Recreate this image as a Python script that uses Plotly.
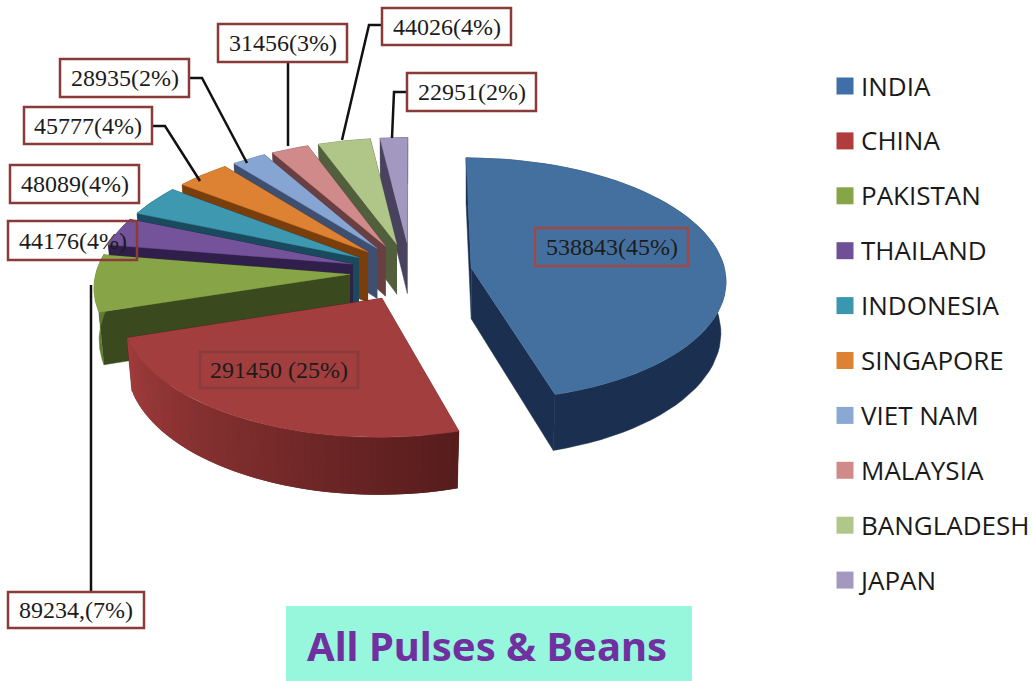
import numpy as np
import plotly.graph_objects as go

COUNTRIES = ["INDIA", "CHINA", "PAKISTAN", "THAILAND", "INDONESIA",
             "SINGAPORE", "VIET NAM", "MALAYSIA", "BANGLADESH", "JAPAN"]
VALUES = [538843, 291450, 89234, 44176, 48089, 45777, 28935, 31456, 44026, 22951]
VALUE_LABELS = ["538843(45%)", "291450 (25%)", "89234,(7%)", "44176(4%)", "48089(4%)",
                "45777(4%)", "28935(2%)", "31456(3%)", "44026(4%)", "22951(2%)"]
TITLE = "All Pulses & Beans"

TOP_COLORS = ["#44709f", "#a23e3e", "#87a546", "#74539b", "#3d98b0",
              "#dc8232", "#87a5d2", "#d08a8a", "#afc688", "#a298c0"]
WALL_COLORS = ["#1b3050", "#561c1c", "#3a4a1e", "#2f1f4a", "#1a4a5e",
               "#7a3e0c", "#3f4f70", "#6a3f42", "#515f3d", "#49425f"]
ARC_COLORS = ["#1b3050", "#8a3434", "#5f7c30", "#2f1f4a", "#1a4a5e",
              "#7a3e0c", "#3f4f70", "#6a3f42", "#515f3d", "#49425f"]
SWATCH_COLORS = ["#3f6fa8", "#b03c3c", "#87a546", "#6f4f96", "#3a97b0",
                 "#dc8232", "#8aa8d4", "#d08a8a", "#b0c78a", "#a298c0"]

# pie geometry, in page pixels
CX, CY = 411, 272
RX, RY = 254, 121
PERSP = 0.093
PULL = 0.24
DEPTH = 51
TAPER = 0.98

# (x0, x1, y0, y1) of each value box
LABEL_BOXES = [(535, 688, 228, 266), (200, 358, 352, 388), (8, 144, 592, 628),
               (8, 137, 221, 260), (10, 139, 165, 203), (24, 152, 107, 144),
               (60, 189, 59, 97), (218, 347, 24, 62), (382, 511, 8, 45),
               (407, 536, 73, 111)]
LABEL_BORDERS = ["#a04848", "#8a3c3c", "#8b3a3a", "#8b3a3a", "#8b3a3a",
                 "#8b3a3a", "#8b3a3a", "#8b3a3a", "#8b3a3a", "#8b3a3a"]
LEADERS = [
    ([91, 91], [592, 285]),
    ([152, 165, 200], [126, 126, 181]),
    ([189, 202, 247], [78, 78, 163]),
    ([288, 288], [62, 146]),
    ([382, 369, 342], [25, 25, 140]),
    ([407, 394, 392], [92, 92, 138]),
]
LEGEND_TOP = 86
LEGEND_STEP = 54.9


def project(u, v):
    k = 1 / (1 - PERSP * v)
    return CX + RX * u * k, CY + RY * v * k


def polygon(xs, ys, color, width=0.5):
    return go.Scatter(
        x=list(xs), y=list(ys), mode="lines", fill="toself", fillcolor=color,
        line=dict(color=color, width=width), hoverinfo="skip", showlegend=False,
    )


def slice_traces(start, end, top, wall, arc):
    mid = (start + end) / 2
    pu, pv = PULL * np.sin(mid), -PULL * np.cos(mid)
    ang = np.linspace(start, end, 60)
    au, av = pu + np.sin(ang), pv - np.cos(ang)
    ax, ay = project(pu, pv)
    tx, ty = project(au, av)

    def bottom(x, y, v):
        return ax + (x - ax) * TAPER, y + DEPTH / (1 - PERSP * v)

    bx, by = bottom(tx, ty, av)
    bax, bay = bottom(ax, ay, pv)

    out = []
    for i in (-1, 0):
        out.append(polygon([ax, tx[i], bx[i], bax], [ay, ty[i], by[i], bay], wall))
    if arc is None:
        # china's rim darkens towards the cut; each piece runs under the next one
        c0, c1 = np.array([160, 60, 60]), np.array([86, 28, 28])
        n = len(ang)
        for i in range(n - 1, 0, -1):
            c = c0 + (c1 - c0) * (1 - i / (n - 1))
            col = "rgb(%d,%d,%d)" % tuple(c)
            lo = max(i - 2, 0)
            out.append(polygon([tx[lo], tx[i], bx[i], bx[lo]],
                               [ty[lo], ty[i], by[i], by[lo]], col, width=0))
    else:
        out.append(polygon(list(tx) + list(bx[::-1]), list(ty) + list(by[::-1]), arc))
    out.append(polygon([ax] + list(tx), [ay] + list(ty), top))
    return out


edges = np.concatenate([[0], np.cumsum(VALUES)]) / sum(VALUES) * 2 * np.pi

fig = go.Figure()

# back slices first, india last
for i in [9, 8, 7, 6, 5, 4, 3, 2, 1, 0]:
    arc = None if i == 1 else ARC_COLORS[i]
    for tr in slice_traces(edges[i], edges[i + 1], TOP_COLORS[i], WALL_COLORS[i], arc):
        fig.add_trace(tr)

for lx, ly in LEADERS:
    fig.add_trace(go.Scatter(x=lx, y=ly, mode="lines", line=dict(color="#111111", width=2.5),
                             hoverinfo="skip", showlegend=False))

legend_y = [LEGEND_TOP + i * LEGEND_STEP for i in range(len(COUNTRIES))]
fig.add_trace(go.Scatter(
    x=[845] * len(COUNTRIES), y=legend_y, mode="markers",
    marker=dict(symbol="square", size=17, color=SWATCH_COLORS),
    hoverinfo="skip", showlegend=False,
))
fig.add_trace(go.Scatter(
    x=[861] * len(COUNTRIES), y=[y + 3 for y in legend_y], mode="text", text=COUNTRIES,
    textposition="middle right",
    textfont=dict(family="Open Sans", size=26, color="#1a1a1a"),
    hoverinfo="skip", showlegend=False,
))

shapes = [dict(type="rect", x0=286, x1=692, y0=606, y1=681, xref="x", yref="y",
               fillcolor="#96f7dc", line=dict(width=0), layer="below")]
for (x0, x1, y0, y1), col in zip(LABEL_BOXES, LABEL_BORDERS):
    shapes.append(dict(type="rect", x0=x0, x1=x1, y0=y0, y1=y1, xref="x", yref="y",
                       line=dict(color=col, width=2.5)))

annotations = []
for (x0, x1, y0, y1), txt in zip(LABEL_BOXES, VALUE_LABELS):
    annotations.append(dict(
        x=(x0 + x1) / 2, y=(y0 + y1) / 2, text=txt, showarrow=False,
        xref="x", yref="y",
        font=dict(family="Liberation Serif", size=24, color="#1c1c1c"),
    ))
annotations.append(dict(
    x=487, y=645, text="<b>%s</b>" % TITLE.replace("&", "&amp;"), showarrow=False,
    xref="x", yref="y",
    font=dict(family="Noto Sans", size=40, color="#7030a0"),
))

fig.update_layout(
    width=1032, height=681,
    margin=dict(l=0, r=0, t=0, b=0),
    paper_bgcolor="white", plot_bgcolor="white",
    xaxis=dict(range=[0, 1032], visible=False, fixedrange=True),
    yaxis=dict(range=[681, 0], visible=False, fixedrange=True),
    shapes=shapes, annotations=annotations,
    showlegend=False,
)

fig.write_html("out.html", config=dict(displayModeBar=False),
               post_script="document.body.style.margin='0';document.body.style.overflow='hidden';")
